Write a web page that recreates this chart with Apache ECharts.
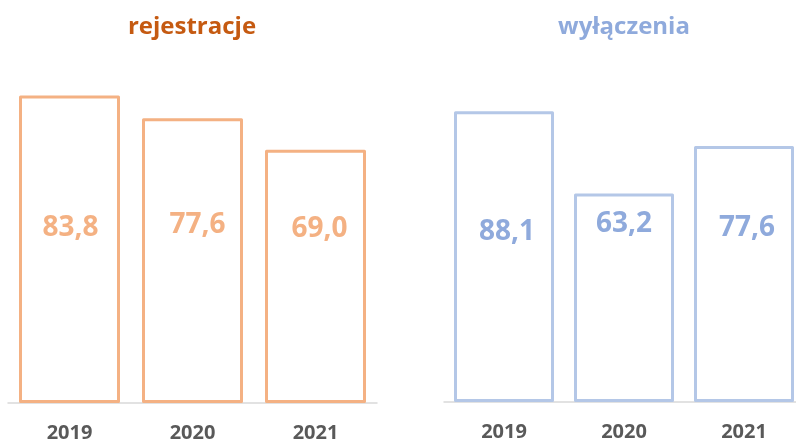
<!DOCTYPE html>
<html>
<head>
<meta charset="utf-8">
<script src="https://cdn.jsdelivr.net/npm/echarts@6/dist/echarts.min.js"></script>
<style>
  html, body { margin: 0; padding: 0; background: #fff; }
  #chart { width: 796px; height: 442px; }
</style>
</head>
<body>
<div id="chart"></div>
<script>
const years = ['2019', '2020', '2021']
const rejestracje = [83.8, 77.6, 69.0]
const wylaczenia = [88.1, 63.2, 77.6]

// where the value labels sit, relative to the middle of each bar
const leftLabelShift = [[1, -21], [5, -36], [4, -47]]
const rightLabelShift = [[3, -25], [0, -74], [3, -46]]

const FONT = '"Open Sans", "DejaVu Sans", sans-serif'
const fmt = v => v.toFixed(1).replace('.', ',')

function items(values, shifts) {
  return values.map((v, i) => ({ value: v, label: { offset: shifts[i] } }))
}

function xAxis(gridIndex) {
  return {
    type: 'category',
    gridIndex,
    data: years,
    axisLine: { lineStyle: { color: '#D9D9D9', width: 1.5 } },
    axisTick: { show: false },
    axisLabel: {
      color: '#595959',
      fontFamily: FONT,
      fontWeight: 'bold',
      fontSize: 20,
      margin: 20
    }
  }
}

function yAxis(gridIndex) {
  return {
    type: 'value',
    gridIndex,
    min: 0,
    max: 100,
    show: false
  }
}

function bars(idx, values, shifts, stroke, textColor, width) {
  return {
    type: 'bar',
    xAxisIndex: idx,
    yAxisIndex: idx,
    data: items(values, shifts),
    barWidth: width,
    itemStyle: {
      color: '#fff',
      borderColor: stroke,
      borderWidth: 3,
      borderJoin: 'round'
    },
    label: {
      show: true,
      position: 'inside',
      color: textColor,
      fontFamily: FONT,
      fontWeight: 'bold',
      fontSize: 28,
      formatter: p => fmt(p.value)
    }
  }
}

const chart = echarts.init(document.getElementById('chart'))
chart.setOption({
  animation: false,
  title: [
    {
      text: 'rejestracje',
      left: 187,
      top: 10,
      textAlign: 'center',
      textStyle: { color: '#C55A11', fontFamily: FONT, fontWeight: 'bold', fontSize: 24 }
    },
    {
      text: 'wyłączenia',
      left: 619,
      top: 10,
      textAlign: 'center',
      textStyle: { color: '#8FAADC', fontFamily: FONT, fontWeight: 'bold', fontSize: 24 }
    }
  ],
  grid: [
    { left: 8, width: 369, top: 36, height: 367, outerBoundsMode: 'none' },
    { left: 444, width: 360, top: 72, height: 330, outerBoundsMode: 'none' }
  ],
  xAxis: [xAxis(0), xAxis(1)],
  yAxis: [yAxis(0), yAxis(1)],
  series: [
    bars(0, rejestracje, leftLabelShift, '#F4B183', '#F4B183', 101),
    bars(1, wylaczenia, rightLabelShift, '#B4C7E7', '#8FAADC', 100)
  ]
})
</script>
</body>
</html>
